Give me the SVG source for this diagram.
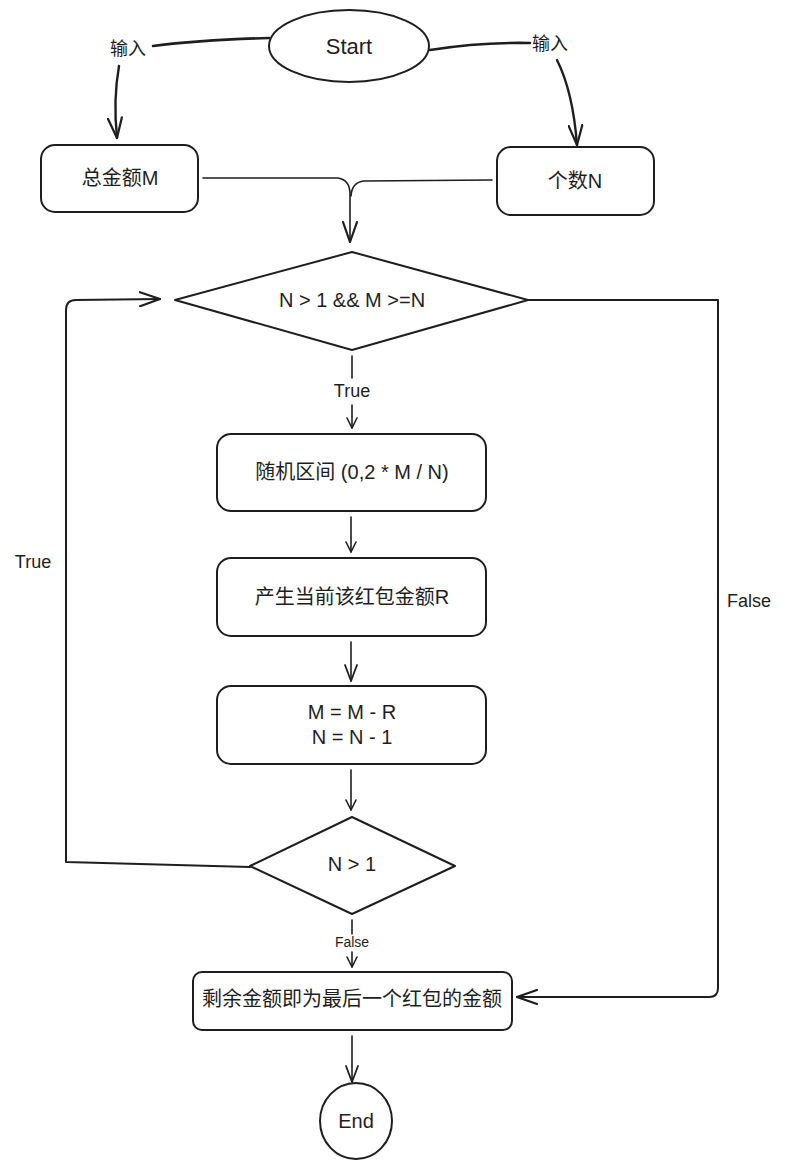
<svg xmlns="http://www.w3.org/2000/svg" width="785" height="1166" viewBox="0 0 785 1166">
<style>
.s{fill:#fff;stroke:#1e1e1e;stroke-width:2;stroke-linejoin:round}
.c{fill:none;stroke:#1e1e1e;stroke-width:1.6;stroke-linecap:round;stroke-linejoin:round}
.t{font-family:"Liberation Sans","Noto Sans CJK SC",sans-serif;font-size:18px;fill:#1e1e1e;text-anchor:middle;dominant-baseline:central}
.b{font-size:20px}
</style>
<defs>
<marker id="big" viewBox="0 0 22 16" refX="21" refY="8" markerWidth="22" markerHeight="16" markerUnits="userSpaceOnUse" orient="auto"><path d="M1,1 L21,8 L1,15" fill="none" stroke="#1e1e1e" stroke-width="2.2" stroke-linecap="round" stroke-linejoin="round"/></marker>
<marker id="mid" viewBox="0 0 18 14" refX="17" refY="7" markerWidth="18" markerHeight="14" markerUnits="userSpaceOnUse" orient="auto"><path d="M1,1 L17,7 L1,13" fill="none" stroke="#1e1e1e" stroke-width="1.8" stroke-linecap="round" stroke-linejoin="round"/></marker>
<marker id="sm" viewBox="0 0 12 12" refX="11" refY="6" markerWidth="12" markerHeight="12" markerUnits="userSpaceOnUse" orient="auto"><path d="M1,1 L11,6 L1,11" fill="none" stroke="#1e1e1e" stroke-width="1.6" stroke-linecap="round" stroke-linejoin="round"/></marker>
</defs>
<rect width="785" height="1166" fill="#fff"/>
<g id="connectors">
<path class="c" style="stroke-width:2.6" d="M269,38 Q200,40 153,46"/>
<path class="c" style="stroke-width:2.4" marker-end="url(#big)" d="M119,66 Q113,100 117,138"/>
<path class="c" style="stroke-width:2.6" d="M430,50 Q480,42 530,43"/>
<path class="c" style="stroke-width:2.4" marker-end="url(#big)" d="M557,60 Q573,92 577,145"/>
<path class="c" d="M203,178 L338,178 Q350,180 350,194 L350,242" marker-end="url(#big)"/>
<path class="c" d="M492,180 L364,181 Q352,182 351,196"/>
<path class="c" d="M352,356 L352,378"/>
<path class="c" marker-end="url(#sm)" d="M352,405 L352,428"/>
<path class="c" marker-end="url(#sm)" d="M351,517 L351,552"/>
<path class="c" marker-end="url(#mid)" d="M351,642 L351,681"/>
<path class="c" marker-end="url(#sm)" d="M351,770 L351,810"/>
<path class="c" d="M352,920 L352,934"/>
<path class="c" marker-end="url(#sm)" d="M352,952 L352,967"/>
<path class="c" marker-end="url(#mid)" d="M352,1036 L352,1082"/>
<path class="c" style="stroke-width:2" marker-end="url(#big)" d="M250,867 L66,862 L66,310 Q66,300 76,300 L160,299"/>
<path class="c" style="stroke-width:2" marker-end="url(#big)" d="M528,300 L718,300 L718,988 Q718,997 709,997 L517,997"/>
<text class="t" x="128" y="49">输入</text>
<text class="t" x="550" y="44">输入</text>
<text class="t" x="352" y="391">True</text>
<text class="t" x="33" y="562">True</text>
<text class="t" x="749" y="601">False</text>
<text class="t" style="font-size:14px" x="352" y="942">False</text>
</g>
<g id="start"><ellipse class="s" cx="349" cy="46" rx="80" ry="36"/><text class="t" style="font-size:22px" x="349" y="46">Start</text></g>
<g id="total"><rect class="s" x="41" y="145" width="157" height="67" rx="14"/><text class="t b" x="120" y="178">总金额M</text></g>
<g id="count"><rect class="s" x="497" y="147" width="157" height="68" rx="14"/><text class="t b" x="575" y="181">个数N</text></g>
<g id="cond1"><path class="s" d="M175,300 L352,252 L528,300 L352,350 Z"/><text class="t b" x="352" y="300">N &gt; 1 &amp;&amp; M &gt;=N</text></g>
<g id="rand"><rect class="s" x="217" y="434" width="269" height="77" rx="14"/><text class="t b" x="352" y="472">随机区间 (0,2 * M / N)</text></g>
<g id="gen"><rect class="s" x="217" y="558" width="269" height="78" rx="14"/><text class="t b" x="352" y="597">产生当前该红包金额R</text></g>
<g id="update"><rect class="s" x="217" y="686" width="269" height="78" rx="14"/><text class="t b" x="352" y="712">M = M - R</text><text class="t b" x="352" y="737">N = N - 1</text></g>
<g id="cond2"><path class="s" d="M250,866 L352,817 L455,866 L352,914 Z"/><text class="t b" x="352" y="864">N &gt; 1</text></g>
<g id="last"><rect class="s" x="193" y="972" width="319" height="58" rx="9"/><text class="t b" x="352" y="999">剩余金额即为最后一个红包的金额</text></g>
<g id="end"><ellipse class="s" cx="356" cy="1121" rx="36" ry="38"/><text class="t b" x="356" y="1121">End</text></g>
</svg>
